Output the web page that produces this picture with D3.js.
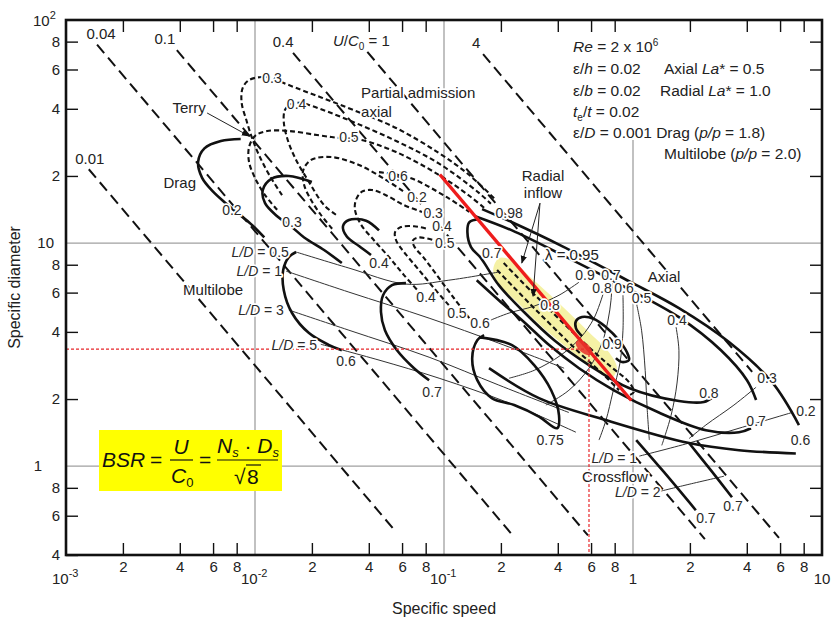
<!DOCTYPE html>
<html>
<head>
<meta charset="utf-8">
<script src="https://cdn.jsdelivr.net/npm/d3@7"></script>
<style>
  body { margin: 0; background: #fff; }
  svg { font-family: "Liberation Sans", Arial, sans-serif; }
</style>
</head>
<body>
<div id="chart"></div>
<script>
// ---- data (Ns = specific speed, Ds = specific diameter) ----
const bsrValues  = [0.01, 0.04, 0.1, 0.4, 1, 4];
const bsrNsStart = [0.00132, 0.00146, 0.00386, 0.0159, 0.0393, 0.161];
const bsrNsEnd   = [0.056, 0.229, 0.578, 2.40, 5.92, 4.27];
const bsrLabels  = ["0.01", "0.04", "0.1", "0.4", "U/C0 = 1", "4"];

const dragCurves = [
  [[0.0084,29.3],[0.0066,28.7],[0.0054,26.6],[0.0050,23.1],[0.00525,19.6],[0.0060,17.0],[0.0070,15.1],[0.0082,13.5],[0.0095,12.2],[0.0112,10.6]],
  [[0.020,18.8],[0.0151,20.0],[0.0122,19.4],[0.0110,17.3],[0.0113,15.1],[0.0131,13.2],[0.0155,11.9],[0.0182,10.6],[0.0232,9.31],[0.0288,8.14]],
  [[0.0453,11.4],[0.0387,12.6],[0.0314,12.7],[0.0292,11.9],[0.0306,10.7],[0.0355,9.70],[0.0411,8.85]]
];

const multilobeCurves = [
  [[0.0165,9.12],[0.0151,8.65],[0.0141,7.57],[0.0142,6.15],[0.0157,4.86],[0.0193,3.95],[0.0247,3.49],[0.0288,3.31]],
  [[0.0629,6.62],[0.0531,6.48],[0.0476,5.84],[0.0464,4.91],[0.0487,4.07],[0.0564,3.31],[0.0694,2.75],[0.0834,2.43]],
  [[0.153,3.79],[0.229,3.49],[0.300,2.84],[0.369,2.19],[0.406,1.69],[0.397,1.48],[0.318,1.67],[0.235,1.88],[0.179,2.02],[0.150,2.43],[0.141,3.05],[0.150,3.67],[0.163,3.87]]
];

const multilobeLD = [
  [[0.0165,9.12],[0.0314,7.73],[0.0629,6.55],[0.106,6.82],[0.195,7.42]],
  [[0.0146,7.49],[0.0314,6.03],[0.0834,4.61],[0.195,3.56],[0.432,2.75]],
  [[0.0151,5.01],[0.0314,4.07],[0.0834,3.08],[0.195,2.31],[0.458,1.74]],
  [[0.0223,3.52],[0.0453,2.99],[0.0942,2.48],[0.221,1.92],[0.499,1.42]]
];

const partialAdmission = [
  [[0.0139,16.4],[0.0119,20.2],[0.0105,24.8],[0.0096,29.9],[0.0090,35.6],[0.0085,42.5],[0.0086,49.5],[0.0093,53.8],[0.0108,55.5],[0.0125,54.9],[0.0142,52.2],[0.0303,40.7],[0.0558,32.8],[0.0942,25.3],[0.136,20.2],[0.188,15.6]],
  [[0.0268,13.4],[0.0232,14.8],[0.0193,18.8],[0.0165,23.6],[0.0149,29.0],[0.0142,34.9],[0.0144,39.5],[0.0155,42.0],[0.0175,42.5],[0.0200,41.2],[0.0303,36.0],[0.0558,28.7],[0.0942,22.7],[0.153,16.8],[0.177,15.0]],
  [[0.0131,14.1],[0.0113,16.4],[0.0100,19.6],[0.0093,23.1],[0.0093,26.9],[0.0100,30.2],[0.0116,31.8],[0.0151,31.8],[0.0213,30.5],[0.0278,29.6],[0.0364,29.0],[0.0558,25.6],[0.0942,20.2],[0.136,16.3],[0.163,14.4]],
  [[0.0453,20.8],[0.0661,19.6],[0.103,16.1],[0.136,13.8]]
];

const terryCurves = [
  [[0.0256,11.6],[0.0223,13.4],[0.0198,15.6],[0.0182,18.2],[0.0180,21.2],[0.0198,23.6],[0.0253,24.3],[0.0355,22.4],[0.0493,19.2],[0.0614,17.0]],
  [[0.0765,5.84],[0.0614,7.19],[0.0512,8.65],[0.0426,10.3],[0.0364,12.1],[0.0338,14.1],[0.0342,15.6],[0.0368,17.0],[0.0416,17.3],[0.0493,16.4],[0.0614,14.8],[0.0765,13.8]],
  [[0.106,5.27],[0.0887,6.27],[0.0738,7.57],[0.0614,9.12],[0.0558,10.3],[0.0551,11.2],[0.0592,11.8],[0.0694,11.9],[0.0813,11.6]],
  [[0.136,4.61],[0.113,5.66],[0.0942,6.96],[0.0784,8.57],[0.0694,9.70],[0.0686,10.3],[0.0738,10.6],[0.0887,10.3]]
];

const radialCurves = [
  [[0.159,14.2],[0.229,12.4],[0.421,9.70],[0.952,6.75],[1.75,5.11],[3.22,3.60],[5.44,2.38],[7.55,1.53]],
  [[0.146,13.2],[0.229,11.4],[0.421,8.85],[0.952,6.21],[1.75,4.66],[2.92,3.31],[4.01,2.43],[4.48,1.98]],
  [[0.153,12.8],[0.136,12.4],[0.133,11.2],[0.139,9.60],[0.157,8.56],[0.195,6.48],[0.265,4.91],[0.383,3.67],[0.585,2.84],[0.952,2.24],[1.75,1.96],[2.37,1.94],[2.65,2.04]],
  [[0.812,3.05],[0.874,2.93],[0.952,2.99],[0.929,3.24],[0.843,3.67],[0.720,4.20],[0.622,4.57],[0.537,4.66],[0.499,4.47],[0.499,4.16],[0.537,3.83]]
];

const axialCurves = [
  [[0.149,6.82],[0.195,5.55],[0.265,4.43],[0.360,3.49],[0.518,2.75],[0.793,2.19],[1.37,1.74],[2.43,1.45],[3.64,1.42],[4.21,1.48]],
  [[0.173,2.75],[0.318,2.02],[0.720,1.61],[1.98,1.27],[3.64,1.18],[7.27,1.14]]
];

const radialDashed = [
  [[0.207,8.14],[0.307,5.78],[0.518,3.75],[0.746,2.84],[0.952,2.38],[1.01,2.15],[0.929,2.06]],
  [[0.191,7.57],[0.307,5.01],[0.518,3.24],[0.703,2.56],[0.843,2.19]]
];

const axialThin = [
  [[0.518,6.68],[0.406,5.84],[0.300,5.22],[0.221,4.86],[0.177,4.52]],
  [[0.694,5.90],[0.622,4.61],[0.531,3.79],[0.416,3.15],[0.300,2.69],[0.221,2.48]],
  [[0.774,6.62],[0.765,5.55],[0.738,4.52],[0.685,3.56],[0.585,2.75],[0.458,2.19],[0.346,1.88]],
  [[0.885,5.84],[0.885,4.07],[0.853,2.90],[0.783,2.15],[0.720,1.61],[0.661,1.31]],
  [[1.04,5.44],[1.11,4.07],[1.16,2.69],[1.19,1.78],[1.22,1.31]],
  [[1.69,4.20],[1.75,3.31],[1.71,2.36],[1.59,1.69],[1.42,1.24]],
  [[4.48,2.26],[3.42,1.88],[2.43,1.53],[1.98,1.33]]
];

const crossflowCurves = [
  [[1.04,1.31],[1.46,0.940],[2.15,0.635]],
  [[1.98,1.27],[2.58,0.960],[3.34,0.726]]
];
const crossflowLD = [
  [[1.08,1.11],[1.98,1.27],[3.64,1.48],[6.93,1.74]],
  [[1.40,0.773],[1.98,0.830],[3.03,0.902]]
];

const yellowZone = [[0.195,8.56],[0.227,8.39],[0.282,7.12],[0.406,5.38],[0.585,3.99],[0.746,3.24],[0.822,2.75],
                    [0.765,2.48],[0.600,2.80],[0.437,3.45],[0.318,4.34],[0.243,5.44],[0.195,6.55],[0.182,7.57]];
const redLine = [[0.095,20.3],[0.98,1.97]];
const designPoint = [0.585, 3.35];
const redSpot = [0.55, 3.4];

const effLabels = [
  [0.00755,14.1,"0.2"],[0.0157,12.4,"0.3"],[0.0453,8.14,"0.4"],
  [0.0303,2.96,"0.6"],[0.0865,2.15,"0.7"],[0.364,1.31,"0.75"],
  [0.0123,54.9,"0.3"],[0.0166,42.0,"0.4"],[0.0314,29.9,"0.5"],[0.0571,20.0,"0.6"],
  [0.0720,16.1,"0.2"],[0.0876,13.7,"0.3"],[0.0977,11.9,"0.4"],[0.101,9.95,"0.5"],
  [0.0804,5.72,"0.4"],[0.117,4.86,"0.5"],[0.155,4.38,"0.6"],
  [0.221,13.7,"0.98"],[0.179,9.03,"0.7"],[0.364,5.27,"0.8"],
  [0.557,7.19,"0.9"],[0.765,7.19,"0.7"],[0.685,6.27,"0.8"],[0.896,6.27,"0.6"],
  [1.11,5.66,"0.5"],[1.71,4.52,"0.4"],[0.774,3.52,"0.9"],[2.52,2.12,"0.8"],
  [5.12,2.48,"0.3"],[8.22,1.76,"0.2"],[4.48,1.59,"0.7"],[7.7,1.31,"0.6"],
  [2.43,0.585,"0.7"],[3.38,0.662,"0.7"]
];
const nameLabels = [
  [0.00448,40.3,"Terry"],[0.0040,18.6,"Drag"],[0.0060,6.15,"Multilobe"],
  [0.334,20.0,"Radial"],[0.334,16.8,"inflow"],[1.46,7.04,"Axial"],
  [0.803,0.893,"Crossflow"],[0.475,8.85,"\u03bb = 0.95"]
];
const ldLabels = [[0.0151,9.12,"0.5"],[0.0139,7.49,"1"],[0.0142,5.01,"3"],[0.0213,3.49,"5"],[1.05,1.09,"1"],[1.40,0.765,"2"]];
const arrows = [
  [[0.00558,38.3],[0.0093,30.2]],
  [[0.322,15.1],[0.258,8.14]],
  [[0.322,15.1],[0.296,5.78]]
];

const xTicks = [2e-3,4e-3,6e-3,8e-3,2e-2,4e-2,6e-2,8e-2,0.2,0.4,0.6,0.8,2,4,6,8];
const yTicks = [0.6,0.8,2,4,6,8,20,40,60,80];
const gridNs = [0.01, 0.1, 1];
const gridDs = [10, 1];

// ---- drawing ----
const W = 833, H = 621;
const SQRT8 = Math.sqrt(8);
const bsrLabelDx = [1, 4, -12, -10, -6, -7];

const svg = d3.select("#chart").append("svg")
  .attr("width", W)
  .attr("height", H);

const x = d3.scaleLog().domain([1e-3, 10]).range([66, 822]);
const y = d3.scaleLog().domain([0.4, 100]).range([555, 20]);

const smooth = d3.line().x(d => x(d[0])).y(d => y(d[1])).curve(d3.curveCatmullRom.alpha(0.5));
const straight = d3.line().x(d => x(d[0])).y(d => y(d[1]));

// grid
const grid = svg.append("g").attr("stroke", "#a0a0a0").attr("stroke-width", 1.3);
gridNs.forEach(v => {
  grid.append("line")
    .attr("x1", x(v)).attr("x2", x(v))
    .attr("y1", v === 1 ? y(29) : y(100)).attr("y2", y(0.4));
});
gridDs.forEach(v => {
  grid.append("line")
    .attr("x1", x(1e-3)).attr("x2", x(10))
    .attr("y1", y(v)).attr("y2", y(v));
});

// yellow optimum zone
svg.append("path")
  .datum(yellowZone)
  .attr("d", d3.line().x(d => x(d[0])).y(d => y(d[1])).curve(d3.curveCatmullRomClosed))
  .attr("fill", "#f4f0a0")
  .attr("fill-opacity", 0.95);

function draw(set, width, dash, color, gen) {
  svg.append("g").selectAll("path")
    .data(set)
    .join("path")
    .attr("d", gen || smooth)
    .attr("fill", "none")
    .attr("stroke", color || "#111")
    .attr("stroke-width", width)
    .attr("stroke-dasharray", dash || null)
    .attr("stroke-linejoin", "round");
}

// blade speed ratio lines, Ns*Ds = BSR*sqrt(8)
const bsrLines = bsrValues.map((b, i) => [
  [bsrNsStart[i], b * SQRT8 / bsrNsStart[i]],
  [bsrNsEnd[i], b * SQRT8 / bsrNsEnd[i]]
]);
draw(bsrLines, 2, "11,6", "#111", straight);

draw(multilobeLD, 1, null, "#333");
draw(crossflowLD, 1, null, "#333");
draw(axialThin, 1, null, "#333");
draw(partialAdmission, 2.1, "5,3");
draw(terryCurves, 2.1, "5,3");
draw(radialDashed, 2.1, "5,3");
draw(dragCurves, 2.6);
draw(multilobeCurves, 2.6);
draw(radialCurves, 2.6);
draw(axialCurves, 2.6);
draw(crossflowCurves, 2.6);

// red design line and cross hairs
svg.append("path").datum(redLine).attr("d", straight)
  .attr("stroke", "#ee1c1c").attr("stroke-width", 3.4).attr("fill", "none");
const red = svg.append("g").attr("stroke", "#e8262a").attr("stroke-width", 1.2).attr("stroke-dasharray", "3,2");
red.append("line").attr("x1", x(1e-3)).attr("x2", x(designPoint[0]))
  .attr("y1", y(designPoint[1])).attr("y2", y(designPoint[1]));
red.append("line").attr("x1", x(designPoint[0])).attr("x2", x(designPoint[0]))
  .attr("y1", y(designPoint[1])).attr("y2", y(0.4));
svg.append("ellipse")
  .attr("cx", x(redSpot[0])).attr("cy", y(redSpot[1]))
  .attr("rx", 10).attr("ry", 5)
  .attr("transform", `rotate(40,${x(redSpot[0])},${y(redSpot[1])})`)
  .attr("fill", "#e8302a").attr("fill-opacity", 0.85);

// arrows
svg.append("defs").append("marker")
  .attr("id", "head").attr("viewBox", "0 0 10 10")
  .attr("refX", 9).attr("refY", 5)
  .attr("markerWidth", 8).attr("markerHeight", 8)
  .attr("orient", "auto")
  .append("path").attr("d", "M0,1 L10,5 L0,9 Z").attr("fill", "#111");
svg.append("g").selectAll("path").data(arrows).join("path")
  .attr("d", straight)
  .attr("stroke", "#222").attr("stroke-width", 1)
  .attr("marker-end", "url(#head)");

// labels with white halo (lines break around them)
function halo(sel) {
  return sel.attr("paint-order", "stroke").attr("stroke", "#fff")
    .attr("stroke-width", 3.5).attr("stroke-linejoin", "round");
}

halo(svg.append("g").selectAll("text").data(effLabels).join("text")
  .attr("x", d => x(d[0])).attr("y", d => y(d[1]))
  .attr("dy", "0.35em").attr("text-anchor", "middle")
  .attr("font-size", 14).attr("fill", "#2a2a2a")
  .text(d => d[2]));

halo(svg.append("g").selectAll("text").data(nameLabels).join("text")
  .attr("x", d => x(d[0])).attr("y", d => y(d[1]))
  .attr("dy", "0.35em").attr("text-anchor", "middle")
  .attr("font-size", 15).attr("fill", "#222")
  .text(d => d[2]));

const pa = halo(svg.append("text").attr("font-size", 15).attr("fill", "#222"));
pa.append("tspan").attr("x", x(0.0364)).attr("y", y(47.0)).attr("dy", "0.35em").text("Partial admission");
pa.append("tspan").attr("x", x(0.0364)).attr("y", y(38.7)).attr("dy", "0.35em").text("axial");

const ld = halo(svg.append("g").selectAll("text").data(ldLabels).join("text")
  .attr("x", d => x(d[0])).attr("y", d => y(d[1]))
  .attr("dy", "0.35em").attr("text-anchor", "end")
  .attr("font-size", 14).attr("fill", "#2a2a2a"));
ld.append("tspan").attr("font-style", "italic").text("L/D");
ld.append("tspan").text(d => " = " + d[2]);

// BSR line labels
const bl = svg.append("g").attr("font-size", 15).attr("fill", "#222");
bsrValues.forEach((b, i) => {
  const px = x(bsrNsStart[i]) + bsrLabelDx[i], py = y(b * SQRT8 / bsrNsStart[i]) - 11;
  const t = halo(bl.append("text").attr("x", px).attr("y", py).attr("dy", "0.35em").attr("text-anchor", "middle"));
  if (bsrLabels[i].startsWith("U")) {
    t.append("tspan").attr("font-style", "italic").text("U");
    t.append("tspan").text("/");
    t.append("tspan").attr("font-style", "italic").text("C");
    t.append("tspan").attr("font-size", 10).attr("dy", 4).text("0");
    t.append("tspan").attr("dy", -4).text(" = 1");
  } else {
    t.text(bsrLabels[i]);
  }
});

// axes with inward ticks
const digit = d => String(Math.round(d / Math.pow(10, Math.floor(Math.log10(d) + 1e-9))));
function styleAxis(g) {
  g.select(".domain").remove();
  g.selectAll(".tick line").attr("stroke", "#111").attr("stroke-width", 1.4);
  g.selectAll(".tick text").attr("font-size", 15).attr("fill", "#222")
    .attr("font-family", "Liberation Sans, Arial, sans-serif");
}
svg.append("g").attr("transform", `translate(0,${y(0.4)})`)
  .call(d3.axisBottom(x).tickValues(xTicks).tickSize(-12).tickPadding(6).tickFormat(digit))
  .call(styleAxis);
svg.append("g").attr("transform", `translate(0,${y(100)})`)
  .call(d3.axisTop(x).tickValues(xTicks).tickSize(-12).tickFormat(""))
  .call(styleAxis);
svg.append("g").attr("transform", `translate(${x(1e-3)},0)`)
  .call(d3.axisLeft(y).tickValues([0.4].concat(yTicks)).tickSize(-12).tickPadding(6).tickFormat(digit))
  .call(styleAxis);
svg.append("g").attr("transform", `translate(${x(10)},0)`)
  .call(d3.axisRight(y).tickValues(yTicks).tickSize(-12).tickFormat(""))
  .call(styleAxis);

svg.append("rect")
  .attr("x", x(1e-3)).attr("y", y(100))
  .attr("width", x(10) - x(1e-3)).attr("height", y(0.4) - y(100))
  .attr("fill", "none").attr("stroke", "#111").attr("stroke-width", 2.6);

// decade labels
const dec = svg.append("g").attr("font-size", 15).attr("fill", "#222");
[[1e-3, "-3"], [1e-2, "-2"], [1e-1, "-1"]].forEach(([v, e]) => {
  const t = dec.append("text").attr("x", x(v) - 14).attr("y", 584);
  t.append("tspan").text("10");
  t.append("tspan").attr("font-size", 11).attr("dy", -7).text(e);
});
dec.append("text").attr("x", x(1)).attr("y", 584).attr("text-anchor", "middle").text("1");
dec.append("text").attr("x", x(10)).attr("y", 584).attr("text-anchor", "middle").text("10");
const t2 = dec.append("text").attr("x", 33).attr("y", y(100) + 6);
t2.append("tspan").text("10");
t2.append("tspan").attr("font-size", 11).attr("dy", -7).text("2");
dec.append("text").attr("x", 54).attr("y", y(10)).attr("dy", "0.35em").attr("text-anchor", "end").text("10");
dec.append("text").attr("x", 42).attr("y", y(1)).attr("dy", "0.35em").attr("text-anchor", "end").text("1");

// axis titles
svg.append("text")
  .attr("transform", `translate(20,${(y(100) + y(0.4)) / 2}) rotate(-90)`)
  .attr("text-anchor", "middle").attr("font-size", 16).attr("fill", "#222")
  .text("Specific diameter");
svg.append("text")
  .attr("x", x(0.1)).attr("y", 614)
  .attr("text-anchor", "middle").attr("font-size", 16).attr("fill", "#222")
  .text("Specific speed");

// parameter block
const pb = svg.append("g").attr("font-size", 15.5).attr("fill", "#222");
function row(xp, yp, parts) {
  const t = pb.append("text").attr("x", xp).attr("y", yp);
  parts.forEach(p => {
    const s = t.append("tspan").text(p[0]);
    if (p[1] === "i") s.attr("font-style", "italic");
    if (p[1] === "sup") s.attr("font-size", 10).attr("dy", -6);
    if (p[1] === "sub") s.attr("font-size", 10).attr("dy", 4);
    if (p[1] === "back") s.attr("dy", -4);
  });
}
row(573, 52, [["Re", "i"], [" = 2 x 10"], ["6", "sup"]]);
row(573, 74, [["\u03b5/"], ["h", "i"], [" = 0.02"]]);
row(664, 74, [["Axial "], ["La", "i"], ["* = 0.5"]]);
row(573, 96, [["\u03b5/"], ["b", "i"], [" = 0.02"]]);
row(660, 96, [["Radial "], ["La", "i"], ["* = 1.0"]]);
row(573, 117, [["t", "i"], ["e", "sub"], ["/", "back"], ["t", "i"], [" = 0.02"]]);
row(573, 138, [["\u03b5/"], ["D", "i"], [" = 0.001 Drag ("], ["p/p", "i"], [" = 1.8)"]]);
row(664, 159, [["Multilobe ("], ["p/p", "i"], [" = 2.0)"]]);

// BSR formula box
const fb = svg.append("g").attr("font-size", 21).attr("fill", "#111");
fb.append("rect").attr("x", 99).attr("y", 430).attr("width", 183).attr("height", 61).attr("fill", "#ffff00");
fb.append("text").attr("x", 102).attr("y", 467).attr("font-style", "italic").text("BSR");
fb.append("text").attr("x", 150).attr("y", 467).text("=");
fb.append("text").attr("x", 181).attr("y", 454).attr("text-anchor", "middle").attr("font-style", "italic").text("U");
fb.append("line").attr("x1", 170).attr("x2", 193).attr("y1", 460).attr("y2", 460).attr("stroke", "#111").attr("stroke-width", 1.2);
const c0 = fb.append("text").attr("x", 171).attr("y", 483);
c0.append("tspan").attr("font-style", "italic").text("C");
c0.append("tspan").attr("font-size", 13).attr("dy", 4).text("0");
fb.append("text").attr("x", 199).attr("y", 467).text("=");
const num = fb.append("text").attr("x", 248).attr("y", 453).attr("text-anchor", "middle");
num.append("tspan").attr("font-style", "italic").text("N");
num.append("tspan").attr("font-style", "italic").attr("font-size", 13).attr("dy", 4).text("s");
num.append("tspan").attr("dy", -4).text(" \u00b7 ");
num.append("tspan").attr("font-style", "italic").text("D");
num.append("tspan").attr("font-style", "italic").attr("font-size", 13).attr("dy", 4).text("s");
fb.append("line").attr("x1", 217).attr("x2", 278).attr("y1", 460).attr("y2", 460).attr("stroke", "#111").attr("stroke-width", 1.2);
fb.append("text").attr("x", 234).attr("y", 484).text("\u221a");
fb.append("line").attr("x1", 246).attr("x2", 261).attr("y1", 465).attr("y2", 465).attr("stroke", "#111").attr("stroke-width", 1.2);
fb.append("text").attr("x", 247).attr("y", 484).text("8");
</script>
</body>
</html>
